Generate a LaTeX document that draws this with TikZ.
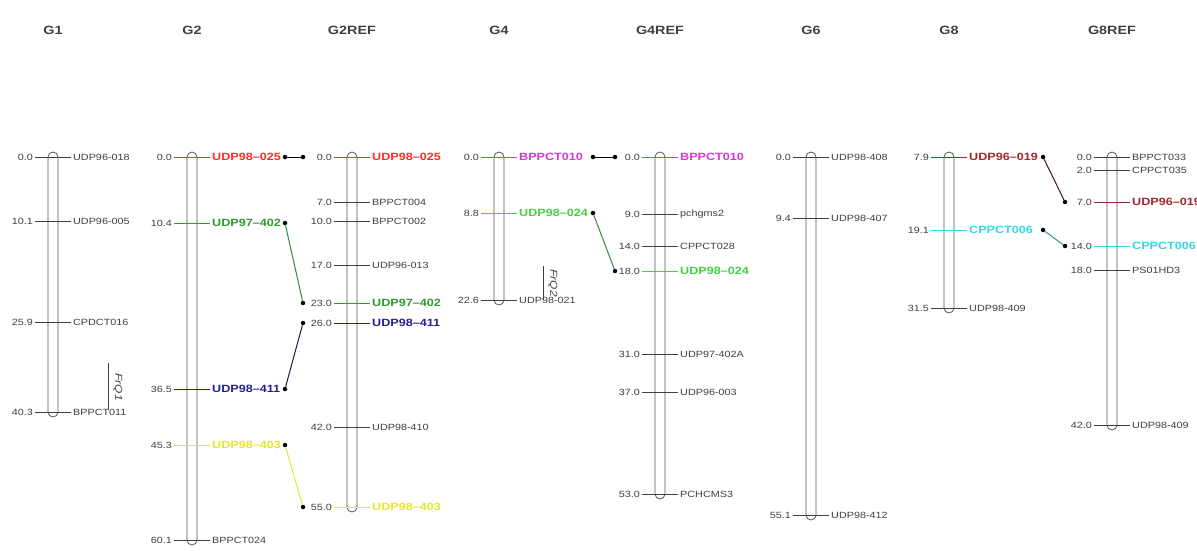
\documentclass[tikz,border=0pt]{standalone}
\usepackage{fontspec}
\setmainfont{Liberation Sans}[FakeStretch=1.2]
\definecolor{txt}{HTML}{404040}
\definecolor{bargray}{HTML}{555555}
\definecolor{mred}{HTML}{FF2A2A}
\definecolor{mgreen}{HTML}{2E9A2E}
\definecolor{mnavy}{HTML}{22228A}
\definecolor{myellow}{HTML}{E6E630}
\definecolor{mmag}{HTML}{D23AD2}
\definecolor{mlime}{HTML}{44D044}
\definecolor{mdark}{HTML}{A0282A}
\definecolor{mcyan}{HTML}{30D8E8}
\definecolor{cgreen}{HTML}{2E8B3E}
\definecolor{cnavy}{HTML}{1A1A50}
\definecolor{cdark}{HTML}{3A1A1A}
\definecolor{cteal}{HTML}{2A9A8A}
\tikzset{
  numlab/.style={anchor=east, font=\fontsize{9}{10}\selectfont, text=txt, inner sep=0pt},
  namelab/.style={anchor=west, font=\fontsize{9}{10}\selectfont, text=txt, inner sep=0pt},
  boldlab/.style={anchor=west, font=\fontsize{10.5}{12}\selectfont\bfseries, inner sep=0pt},
  chrtitle/.style={font=\fontsize{12}{14}\selectfont\bfseries, text=txt},
  tickline/.style={line width=0.8pt, shorten <=2pt, shorten >=2pt},
  chrbar/.style={draw=bargray, fill=white, line width=0.8pt, rounded corners=5pt},
  dotc/.style={circle, fill=black, inner sep=0pt, minimum size=4.5pt},
  conn/.style={line width=1pt},
  qtlline/.style={draw=txt, line width=0.8pt},
  qtllab/.style={rotate=-90, font=\fontsize{10}{12}\selectfont\itshape, text=txt, inner sep=0pt},
}
\newcommand{\chr}[4]{%
  \node[chrtitle] (t-#1) at (#2,30) {#1};
  \draw[chrbar] ({#2-5},{#3-5}) rectangle ({#2+5},{#4+5});
}
\newcommand{\mk}[7]{%
  \node[numlab] (#1n) at ({#2-20},#3) {#4};
  \node[#7, text=#6] (#1) at ({#2+20},#3) {#5};
  \draw[tickline, draw=#6] (#1n.east) -- (#1.west);
}
\newcommand{\cn}[6]{%
  \node[dotc] (#1l) at (#2,#3) {};
  \node[dotc] (#1r) at (#4,#5) {};
  \draw[conn, draw=#6] (#1l) -- (#1r);
}
\begin{document}
\begin{tikzpicture}[x=1pt,y=-1pt]
\useasboundingbox (0,0) rectangle (1197,552);
\clip (0,0) rectangle (1197,552);
\fill[white] (0,0) rectangle (1197,552);
% bars and titles
\chr{G1}{53}{157}{412}
\chr{G2}{192}{157}{540}
\chr{G2REF}{352}{157}{507}
\chr{G4}{499}{157}{300}
\chr{G4REF}{660}{157}{494}
\chr{G6}{811}{157}{515}
\chr{G8}{949}{157}{308}
\chr{G8REF}{1112}{157}{425}
% G1
\mk{g1a}{53}{157}{0.0}{UDP96-018}{txt}{namelab}
\mk{g1b}{53}{221}{10.1}{UDP96-005}{txt}{namelab}
\mk{g1c}{53}{322}{25.9}{CPDCT016}{txt}{namelab}
\mk{g1d}{53}{412}{40.3}{BPPCT011}{txt}{namelab}
% G2
\mk{g2a}{192}{157}{0.0}{UDP98--025}{mred}{boldlab}
\mk{g2b}{192}{223}{10.4}{UDP97--402}{mgreen}{boldlab}
\mk{g2c}{192}{389}{36.5}{UDP98--411}{mnavy}{boldlab}
\mk{g2d}{192}{445}{45.3}{UDP98--403}{myellow}{boldlab}
\mk{g2e}{192}{540}{60.1}{BPPCT024}{txt}{namelab}
% G2REF
\mk{r2a}{352}{157}{0.0}{UDP98--025}{mred}{boldlab}
\mk{r2b}{352}{202}{7.0}{BPPCT004}{txt}{namelab}
\mk{r2c}{352}{221}{10.0}{BPPCT002}{txt}{namelab}
\mk{r2d}{352}{265}{17.0}{UDP96-013}{txt}{namelab}
\mk{r2e}{352}{303}{23.0}{UDP97--402}{mgreen}{boldlab}
\mk{r2f}{352}{323}{26.0}{UDP98--411}{mnavy}{boldlab}
\mk{r2g}{352}{427}{42.0}{UDP98-410}{txt}{namelab}
\mk{r2h}{352}{507}{55.0}{UDP98--403}{myellow}{boldlab}
% G4
\mk{g4a}{499}{157}{0.0}{BPPCT010}{mmag}{boldlab}
\mk{g4b}{499}{213}{8.8}{UDP98--024}{mlime}{boldlab}
\mk{g4c}{499}{300}{22.6}{UDP98-021}{txt}{namelab}
% G4REF
\mk{r4a}{660}{157}{0.0}{BPPCT010}{mmag}{boldlab}
\mk{r4b}{660}{214}{9.0}{pchgms2}{txt}{namelab}
\mk{r4c}{660}{246}{14.0}{CPPCT028}{txt}{namelab}
\mk{r4d}{660}{271}{18.0}{UDP98--024}{mlime}{boldlab}
\mk{r4e}{660}{354}{31.0}{UDP97-402A}{txt}{namelab}
\mk{r4f}{660}{392}{37.0}{UDP96-003}{txt}{namelab}
\mk{r4g}{660}{494}{53.0}{PCHCMS3}{txt}{namelab}
% G6
\mk{g6a}{811}{157}{0.0}{UDP98-408}{txt}{namelab}
\mk{g6b}{811}{218}{9.4}{UDP98-407}{txt}{namelab}
\mk{g6c}{811}{515}{55.1}{UDP98-412}{txt}{namelab}
% G8
\mk{g8a}{949}{157}{7.9}{UDP96--019}{mdark}{boldlab}
\mk{g8b}{949}{230}{19.1}{CPPCT006}{mcyan}{boldlab}
\mk{g8c}{949}{308}{31.5}{UDP98-409}{txt}{namelab}
% G8REF
\mk{r8a}{1112}{157}{0.0}{BPPCT033}{txt}{namelab}
\mk{r8b}{1112}{170}{2.0}{CPPCT035}{txt}{namelab}
\mk{r8c}{1112}{202}{7.0}{UDP96--019}{mdark}{boldlab}
\mk{r8d}{1112}{246}{14.0}{CPPCT006}{mcyan}{boldlab}
\mk{r8e}{1112}{270}{18.0}{PS01HD3}{txt}{namelab}
\mk{r8f}{1112}{425}{42.0}{UDP98-409}{txt}{namelab}
% connectors
\cn{c1}{285}{157}{303}{157}{black}
\cn{c2}{285}{223}{303}{303}{cgreen}
\cn{c3}{285}{389}{303}{323}{cnavy}
\cn{c4}{285}{445}{303}{507}{myellow}
\cn{c5}{593}{157}{615}{157}{black}
\cn{c6}{593}{213}{615}{271}{cgreen}
\cn{c7}{1043}{157}{1065}{202}{cdark}
\cn{c8}{1043}{230}{1065}{246}{cteal}
% QTL labels
\draw[qtlline] (108,363) -- (108,410);
\node[qtllab] (q1) at (118,387) {FrQ1};
\draw[qtlline] (543,266) -- (543,300);
\node[qtllab] (q2) at (553,283) {FrQ2};
\end{tikzpicture}
\end{document}
